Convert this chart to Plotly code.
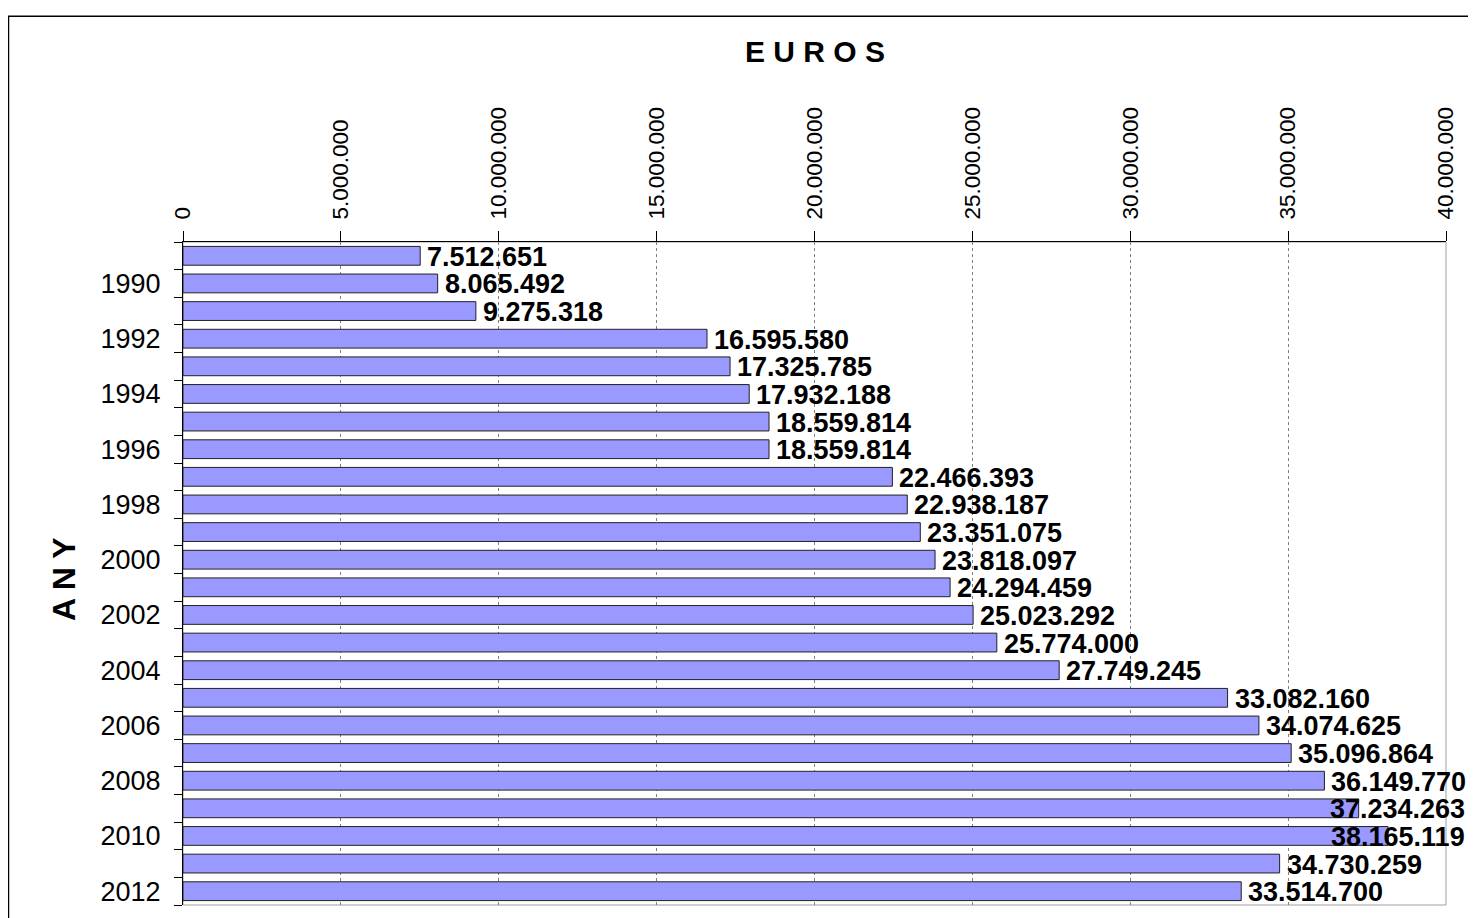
import plotly.graph_objects as go

years = list(range(1989, 2013))
values = [7512651, 8065492, 9275318, 16595580, 17325785, 17932188, 18559814,
          18559814, 22466393, 22938187, 23351075, 23818097, 24294459, 25023292,
          25774000, 27749245, 33082160, 34074625, 35096864, 36149770, 37234263,
          38165119, 34730259, 33514700]
x_ticks = list(range(0, 40000001, 5000000))
year_labels = list(range(1990, 2013, 2))

# the page puts the figure 8px from the top-left corner
OFF = 8
W, H = 1476 - OFF, 918 - OFF
L, R, T, B = 183 - OFF, 30, 242 - OFF, 11
XMAX = 40000000
SANS = "Liberation Sans, Arial, sans-serif"
plot_w = W - L - R
plot_h = H - T - B
VISIBLE_RIGHT = W - 9  # last visible column of the page, in figure pixels


def fmt(v):
    return f"{v:,}".replace(",", ".")


def px_to_paper_x(px):
    return (px - OFF - L) / plot_w


def px_to_paper_y(py):
    return 1 - (py - OFF - T) / plot_h


fig = go.Figure()
fig.add_trace(go.Bar(
    x=values, y=years, orientation="h", width=0.68,
    marker=dict(color="#9999FF", line=dict(color="#222222", width=1)),
    hoverinfo="skip",
))

lab_fs = 27
annotations = []
for yr, v in zip(years, values):
    txt = fmt(v)
    end_px = L + v / XMAX * plot_w
    nd = sum(c.isdigit() for c in txt)
    est = (nd * 0.556 + (len(txt) - nd) * 0.278) * lab_fs
    if end_px + 5 + est > VISIBLE_RIGHT:
        anchor, shift = "right", VISIBLE_RIGHT - end_px
    else:
        anchor, shift = "left", 5
    annotations.append(dict(
        x=v, y=yr, xref="x", yref="y", text=f"<b>{txt}</b>", showarrow=False,
        xanchor=anchor, yanchor="middle", xshift=shift, yshift=-1,
        font=dict(family=SANS, size=lab_fs, color="black"),
    ))

# y-axis title
annotations.append(dict(
    text="<b>A N Y</b>", xref="paper", yref="paper",
    x=px_to_paper_x(64), y=px_to_paper_y(580),
    showarrow=False, textangle=-90, xanchor="center", yanchor="middle",
    font=dict(family=SANS, size=32, color="black"),
))

fig.update_layout(
    width=W, height=H,
    margin=dict(l=L, r=R, t=T, b=B),
    paper_bgcolor="white", plot_bgcolor="white",
    showlegend=False,
    title=dict(
        text="<b>E U R O S</b>", x=(815 - OFF) / W, xanchor="center",
        xref="container", y=1 - (51 - OFF) / H, yanchor="middle", yref="container",
        font=dict(family=SANS, size=30, color="black"),
    ),
    annotations=annotations,
    xaxis=dict(
        side="top", range=[0, XMAX],
        tickmode="array", tickvals=x_ticks, ticktext=[fmt(t) for t in x_ticks],
        tickangle=-90, ticks="outside", ticklen=10, tickcolor="black", tickwidth=1,
        ticklabelstandoff=7,
        tickfont=dict(family=SANS, size=22.5, color="black"),
        showline=True, linecolor="black", linewidth=1,
        showgrid=True, gridcolor="#808080", griddash="dot", gridwidth=1,
        zeroline=False,
    ),
    yaxis=dict(
        range=[2012.5, 1988.5],
        tickmode="array", tickvals=year_labels, ticktext=[str(y) for y in year_labels],
        ticks="", ticklabelstandoff=16,
        tickfont=dict(family=SANS, size=27, color="black"),
        minor=dict(tickmode="array", tickvals=[y - 0.5 for y in years] + [years[-1] + 0.5],
                   ticks="outside", ticklen=8, tickcolor="black", tickwidth=1,
                   showgrid=False),
        showline=True, linecolor="black", linewidth=1,
        showgrid=False, zeroline=False,
    ),
    shapes=[
        # plot area frame (light grey)
        dict(type="rect", xref="x domain", yref="y domain", x0=0, x1=1, y0=0, y1=1,
             line=dict(color="#A0A0A0", width=1), layer="below"),
        # outer chart border
        dict(type="rect", xref="paper", yref="paper",
             x0=px_to_paper_x(8.5), x1=px_to_paper_x(1500),
             y0=px_to_paper_y(940), y1=px_to_paper_y(15.5),
             line=dict(color="black", width=1.5), layer="below"),
    ],
)

fig.write_html(
    "out.html",
    post_script="document.documentElement.style.overflow='hidden';"
                "document.body.style.overflow='hidden';",
)
